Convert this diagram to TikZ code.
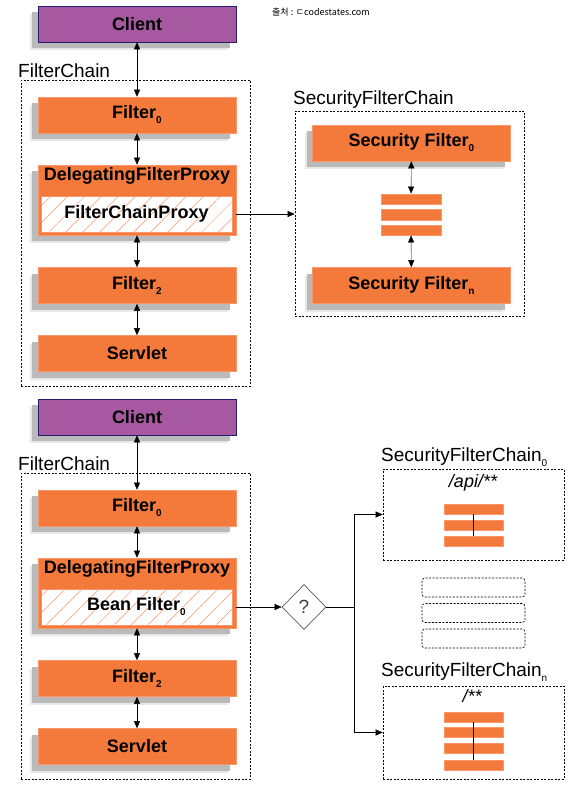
\documentclass[tikz,border=0pt]{standalone}
\usepackage{fontspec}
\setmainfont{Liberation Sans}
\newfontfamily\krfont{Noto Sans CJK KR}
\usetikzlibrary{positioning,shapes.geometric,shadows,patterns.meta,arrows.meta}

\definecolor{springorange}{RGB}{244,122,60}
\definecolor{orangeedge}{RGB}{250,150,105}
\definecolor{clientpurple}{RGB}{166,89,160}
\definecolor{clientedge}{RGB}{35,30,110}

\newcommand\boxfont{\fontsize{18}{20}\selectfont\bfseries}
\newcommand\labelfont{\fontsize{19}{21}\selectfont}
\newcommand\subidx[1]{\raisebox{-5pt}{\fontsize{10}{10}\selectfont #1}}

\tikzset{
  boxshadow/.style={general shadow={fill=black!9,shadow xshift=-8pt,shadow yshift=-8pt},
                    general shadow={fill=black!27,shadow xshift=-6pt,shadow yshift=-6pt}},
  filterbox/.style={boxshadow,fill=springorange,draw=orangeedge,line width=0.6pt,
                    minimum width=198pt,minimum height=36pt,inner sep=0pt,font=\boxfont},
  clientbox/.style={filterbox,fill=clientpurple,draw=clientedge},
  proxybox/.style={draw=orangeedge,line width=0.8pt,preaction={fill=white},
                   pattern={Lines[angle=45,distance=12pt,line width=0.5pt]},pattern color=orangeedge,
                   minimum width=191pt,minimum height=36pt,inner sep=0pt,font=\boxfont},
  chainbox/.style={draw,dash pattern=on 2pt off 1.5pt,line width=0.7pt,inner sep=0pt},
  chainlabel/.style={font=\labelfont,anchor=base west,inner sep=0pt},
  bar/.style={fill=springorange,draw=orangeedge,line width=0.4pt,minimum width=60pt,
              minimum height=10.5pt,inner sep=0pt},
}

\begin{document}
\begin{tikzpicture}[x=1pt,y=-1pt,>={Triangle[length=7pt,width=6pt]}]
    \useasboundingbox (0,0) rectangle (580,790);
    \node[font=\krfont\fontsize{9}{10}\selectfont,anchor=west,inner sep=0pt] (source) at (272,12) {출처 : ㄷcodestates.com};

    % upper: FilterChainProxy
    \node[chainbox,minimum width=229pt,minimum height=306pt] (chain) at (135.5,233) {};
    \node[chainlabel] (chainname) at (18,77) {FilterChain};
    \node[clientbox] (client) at (137,24) {Client};
    \node[filterbox] (f0) at (137,115) {Filter\subidx{0}};
    \node[filterbox,minimum height=70pt] (dfp) at (137,200) {};
    \node[font=\boxfont,inner sep=0pt,below=3pt of dfp.north] (dfpname) {DelegatingFilterProxy};
    \node[proxybox] (fcp) at (136.5,214) {FilterChainProxy};
    \node[filterbox] (f2) at (137,285.5) {Filter\subidx{2}};
    \node[filterbox] (servlet) at (137,353.5) {Servlet};
    \draw[<->] (client) -- (f0);
    \draw[<->] (f0) -- (dfp);
    \draw[<->] (dfp) -- (f2);
    \draw[<->] (f2) -- (servlet);

    \node[chainbox,minimum width=229pt,minimum height=205pt] (sfc) at (409.5,213.5) {};
    \node[chainlabel] (sfcname) at (293,104) {SecurityFilterChain};
    \node[filterbox] (sf0) at (411.5,143) {Security Filter\subidx{0}};
    \node[bar] (b1) at (411,199) {};
    \node[bar] (b2) at (411,214.5) {};
    \node[bar] (b3) at (411,230) {};
    \node[filterbox] (sfn) at (411.5,285.5) {Security Filter\subidx{n}};
    \draw[<->] (sf0) -- (b1);
    \draw[<->] (b3) -- (sfn);
    \draw[->,shorten <=4pt] (fcp.east) -- (fcp.east -| sfc.west);

    % lower: several SecurityFilterChains
    \node[chainbox,minimum width=229pt,minimum height=306pt] (chainb) at (135.5,626) {};
    \node[chainlabel] (chainbname) at (18,470) {FilterChain};
    \node[clientbox] (clientb) at (137,417) {Client};
    \node[filterbox] (g0) at (137,508) {Filter\subidx{0}};
    \node[filterbox,minimum height=70pt] (dfpb) at (137,593) {};
    \node[font=\boxfont,inner sep=0pt,below=3pt of dfpb.north] (dfpbname) {DelegatingFilterProxy};
    \node[proxybox] (bean) at (136.5,607) {Bean Filter\subidx{0}};
    \node[filterbox] (g2) at (137,678.5) {Filter\subidx{2}};
    \node[filterbox] (servletb) at (137,746.5) {Servlet};
    \draw[<->] (clientb) -- (g0);
    \draw[<->] (g0) -- (dfpb);
    \draw[<->] (dfpb) -- (g2);
    \draw[<->] (g2) -- (servletb);

    \node[diamond,draw=black!65,line width=0.7pt,minimum width=44pt,minimum height=45pt,
          inner sep=0pt,font=\labelfont,text=black!75] (match) at (304,607) {?};
    \coordinate (split) at (354,607);
    \draw[->,shorten <=4pt] (bean.east) -- (match.west);
    \draw (match.east) -- (split);

    \node[chainbox,minimum width=181pt,minimum height=91pt] (sc0) at (473.5,514.5) {};
    \node[chainlabel] (sc0name) at (381,461) {SecurityFilterChain\subidx{0}};
    \node[font=\fontsize{18}{20}\selectfont\itshape,inner sep=0pt] (api) at (473,483) {/api/**};
    \node[bar,minimum width=59pt] (c1) at (473.5,509) {};
    \node[bar,minimum width=59pt] (c2) at (473.5,525) {};
    \node[bar,minimum width=59pt] (c3) at (473.5,541) {};
    \draw (c1.south) -- (c3.north);

    \node[chainbox,rounded corners=3pt,minimum width=103pt,minimum height=19pt] (d1) at (473.5,587.5) {};
    \node[chainbox,rounded corners=3pt,minimum width=103pt,minimum height=19pt] (d2) at (473.5,613) {};
    \node[chainbox,rounded corners=3pt,minimum width=103pt,minimum height=19pt] (d3) at (473.5,638.5) {};

    \node[chainbox,minimum width=181pt,minimum height=93pt] (scn) at (473.5,732.5) {};
    \node[chainlabel] (scnname) at (381,676) {SecurityFilterChain\subidx{n}};
    \node[font=\fontsize{18}{20}\selectfont\itshape,inner sep=0pt] (all) at (472,696) {/**};
    \node[bar,minimum width=59pt] (n1) at (473.5,717) {};
    \node[bar,minimum width=59pt] (n2) at (473.5,732) {};
    \node[bar,minimum width=59pt] (n3) at (473.5,748) {};
    \node[bar,minimum width=59pt] (n4) at (473.5,765) {};
    \draw (n1.south) -- (n4.north);

    \draw[->] (split) |- (sc0.west);
    \draw[->] (split) |- (scn.west);
\end{tikzpicture}
\end{document}
